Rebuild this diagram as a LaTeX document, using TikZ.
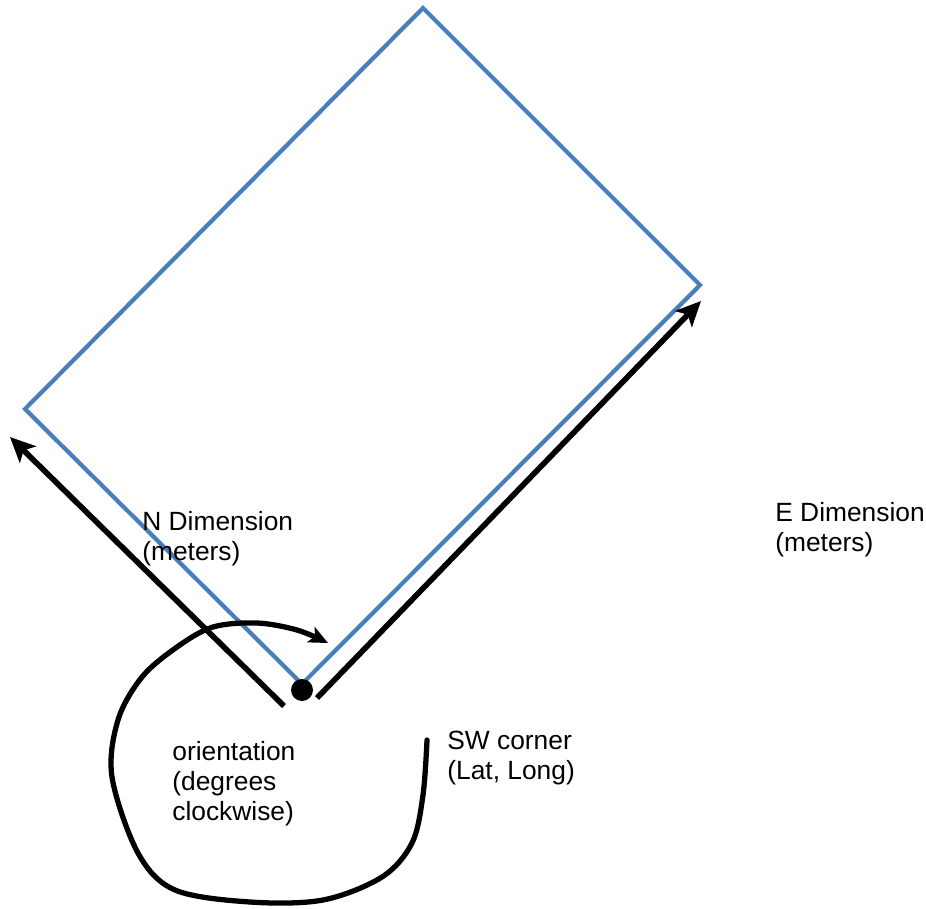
\documentclass[tikz,border=0pt]{standalone}
\usepackage{fontspec}
\setmainfont{Liberation Sans}
\usetikzlibrary{arrows.meta}

\begin{document}
\begin{tikzpicture}[x=0.02cm, y=-0.02cm,
  plotBorder/.style={draw=plotBlue, line width=2.4pt, line join=miter},
  dimArrow/.style={draw=black, line width=3.2pt, -{Stealth[length=0.5cm, width=0.46cm, inset=0.12cm]}},
  turnArrow/.style={draw=black, line width=3pt, line cap=round, -{Stealth[length=0.38cm, width=0.34cm, inset=0.09cm]}},
  lbl/.style={anchor=north west, inner sep=0pt, align=left, font=\fontsize{15}{17}\selectfont}]

% Colours
\definecolor{plotBlue}{HTML}{4A7EBB}

% Frame of the picture (pixels)
\useasboundingbox (0,0) rectangle (926,909);

% Corners of the plot
\coordinate (swC)  at (302,684);
\coordinate (seC)  at (700,285);
\coordinate (topC) at (423,8);
\coordinate (nwC)  at (25,409);

\draw[plotBorder] (swC) -- (seC) -- (topC) -- (nwC) -- cycle;

% Dimension arrows
\coordinate (nStart) at (284,706);
\coordinate (nTip)   at (10,437);
\coordinate (eStart) at (317,698);
\coordinate (eTip)   at (701,301);

\draw[dimArrow] (nStart) -- (nTip);
\draw[dimArrow] (eStart) -- (eTip);

% SW corner point
\node[circle, fill=black, inner sep=0pt, minimum size=0.44cm] (swDot) at (302,690) {};

% Orientation loop (drawn by hand)
\coordinate (loopStart) at (427,740);
\coordinate (loopTip)   at (328,643);
\draw[turnArrow] plot[smooth, tension=0.55] coordinates {
  (loopStart) (423,795) (412,843) (382,877) (323,900) (250,902) (175,890)
  (138,853) (112,777) (118,720) (142,677) (177,647) (213,627) (257,623)
  (297,630) (loopTip)};

% Labels
\node[lbl] (nLbl) at (142,511) {N Dimension\\(meters)};
\node[lbl] (eLbl) at (775,502) {E Dimension\\(meters)};
\node[lbl] (swLbl) at (447,731) {SW corner\\(Lat, Long)};
\node[lbl] (orLbl) at (172,741) {orientation\\(degrees\\clockwise)};

\end{tikzpicture}
\end{document}
